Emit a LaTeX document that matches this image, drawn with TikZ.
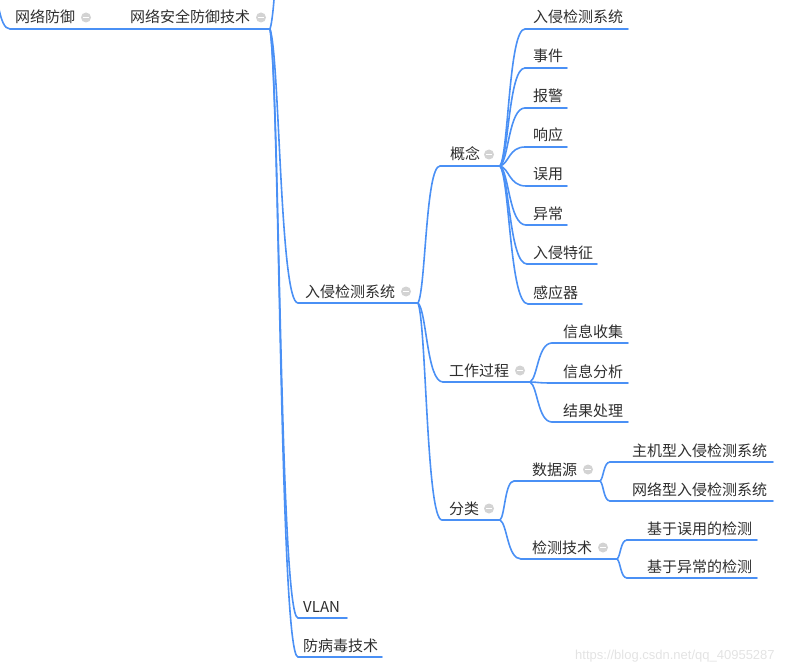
\documentclass[tikz,border=0pt]{standalone}
\usepackage{fontspec}
\setmainfont{Noto Sans CJK SC}
\newfontfamily\wmfont{Liberation Sans}
\usetikzlibrary{calc}
\definecolor{mmblue}{HTML}{4A90F5}
\definecolor{mmtext}{HTML}{2E2E2E}
\definecolor{mmgray}{HTML}{D3D3D3}
\definecolor{wmgray}{HTML}{E3E3E3}
\newcommand{\mmtopic}[6]{%
  \node[topic] (#1) at (#2,#3-6) {#6};
  \coordinate (#1s) at (#4,#3);
  \coordinate (#1e) at (#5,#3);
  \draw[uline] (#1s) -- (#1e);}
\newcommand{\mmcollapse}[3]{\node[collapse] (#1) at (#2,#3-11.5) {};}
\begin{document}
\begin{tikzpicture}[x=1pt,y=-1pt,
  topic/.style={anchor=base west,inner sep=0pt,text=mmtext,font=\fontsize{15}{18}\selectfont},
  uline/.style={draw=mmblue,line width=1.8pt,line cap=round},
  conn/.style={draw=mmblue,line width=1.6pt,line cap=round,
    to path={let \p1=(\tikztostart),\p2=(\tikztotarget) in
      .. controls ({\x1+0.35*(\x2-\x1)},{\y1+0.1*(\y2-\y1)}) and ({\x1+0.35*(\x2-\x1)},\y2) .. (\tikztotarget)}},
  collapse/.style={circle,fill=mmgray,minimum size=10pt,inner sep=0pt,
    path picture={\draw[white,line width=1.3pt]
      ([xshift=-2.6pt]path picture bounding box.center) -- ([xshift=2.6pt]path picture bounding box.center);}}
]
\useasboundingbox (0,0) rectangle (800,671);
\clip (0,0) rectangle (800,671);

% level 0 / 1
\mmtopic{root}{15}{29}{10}{97}{网络防御}
\mmcollapse{rootc}{86}{29}
\coordinate (in0) at (-8,-14);
\draw[conn] (in0) to (roots);

\mmtopic{nsd}{130}{29}{120}{270}{网络安全防御技术}
\mmcollapse{nsdc}{261}{29}
\draw[conn] (roote) to (nsds);
\coordinate (up0) at (300,-300);
\draw[conn] (nsde) to (up0);

% level 2
\mmtopic{ids}{305}{303}{298}{418}{入侵检测系统}
\mmcollapse{idsc}{406}{303}
\mmtopic{vlan}{303}{618}{298}{347}{VLAN}
\mmtopic{av}{303}{657}{298}{382}{防病毒技术}
\draw[conn] (nsde) to (idss);
\draw[conn] (nsde) to (vlans);
\draw[conn] (nsde) to (avs);

% level 3
\mmtopic{gn}{450}{166}{440}{500}{概念}
\mmcollapse{gnc}{489}{166}
\mmtopic{gz}{449}{382}{443}{530}{工作过程}
\mmcollapse{gzc}{520}{382}
\mmtopic{fl}{449}{520}{442}{500}{分类}
\mmcollapse{flc}{489}{520}
\draw[conn] (idse) to (gns);
\draw[conn] (idse) to (gzs);
\draw[conn] (idse) to (fls);

% concept children
\mmtopic{ga}{533}{29}{525}{628}{入侵检测系统}
\mmtopic{gb}{533}{68}{525}{567}{事件}
\mmtopic{gc}{533}{108}{525}{567}{报警}
\mmtopic{gd}{533}{147}{525}{567}{响应}
\mmtopic{ge}{533}{186}{526}{567}{误用}
\mmtopic{gf}{533}{225}{526}{567}{异常}
\mmtopic{gg}{533}{264}{527}{597}{入侵特征}
\mmtopic{gh}{533}{304}{528}{582}{感应器}
\foreach \c in {ga,gb,gc,gd,ge,gf,gg,gh} \draw[conn] (gne) to (\c s);

% process children
\mmtopic{pa}{563}{343}{552}{628}{信息收集}
\mmtopic{pb}{563}{383}{552}{628}{信息分析}
\mmtopic{pc}{563}{422}{552}{628}{结果处理}
\foreach \c in {pa,pb,pc} \draw[conn] (gze) to (\c s);

% classification children
\mmtopic{ds}{532}{481}{514}{600}{数据源}
\mmcollapse{dsc}{588}{481}
\mmtopic{dt}{532}{559}{521}{617}{检测技术}
\mmcollapse{dtc}{603}{559}
\draw[conn] (fle) to (dss);
\draw[conn] (fle) to (dts);

\mmtopic{da}{632}{462}{610}{773}{主机型入侵检测系统}
\mmtopic{db}{632}{501}{610}{773}{网络型入侵检测系统}
\draw[conn] (dse) to (das);
\draw[conn] (dse) to (dbs);

\mmtopic{ta}{647}{540}{627}{757}{基于误用的检测}
\mmtopic{tb}{647}{578}{627}{757}{基于异常的检测}
\draw[conn] (dte) to (tas);
\draw[conn] (dte) to (tbs);

% watermark
\node[anchor=west,inner sep=0pt,text=wmgray,font=\wmfont\fontsize{13}{15}\selectfont] (wm) at (575,656) {https://blog.csdn.net/qq\_40955287};
\end{tikzpicture}
\end{document}
